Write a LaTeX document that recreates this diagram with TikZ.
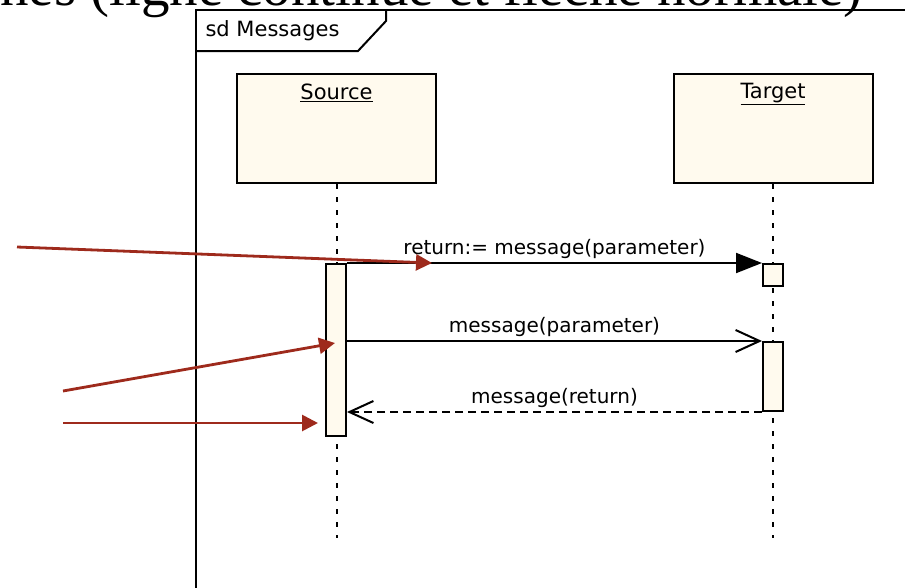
\documentclass[tikz,border=0pt]{standalone}
\usepackage{fontspec}
\setmainfont{Liberation Serif}
\newfontfamily\umlfont{DejaVu Sans}
\usetikzlibrary{arrows.meta,positioning}

\definecolor{objfill}{RGB}{255,250,238}
\definecolor{notered}{RGB}{158,42,28}

\tikzstyle{every node}=[font=\umlfont\fontsize{20}{24}\selectfont]
\tikzstyle{obj}=[draw, fill=objfill, line width=2pt, minimum width=199pt, minimum height=109pt, inner sep=0pt]
\tikzstyle{objname}=[font=\umlfont\fontsize{21}{25}\selectfont, anchor=north]
\tikzstyle{actbar}=[draw, fill=objfill, line width=2pt, minimum width=20pt, inner sep=0pt]
\tikzstyle{lifeline}=[line width=2pt, dash pattern=on 5pt off 8pt]
\tikzstyle{syncmsg}=[line width=2pt, -{Triangle[length=26pt,width=20pt]}]
\tikzstyle{asyncmsg}=[line width=2pt, -{Straight Barb[length=24pt,width=22pt]}]
\tikzstyle{replymsg}=[asyncmsg, dash pattern=on 8pt off 5pt]
\tikzstyle{redarrow}=[notered, line width=2.8pt, -{Triangle[length=16pt,width=16pt]}]

\begin{document}
\begin{tikzpicture}[x=1pt,y=-1pt]
            \useasboundingbox (0,0) rectangle (905,587);
            \clip (0,0) rectangle (905,587);

            % 标题（被截断）
            \node[font=\rmfamily\fontsize{57}{60}\selectfont, anchor=base west, inner sep=0pt] (titre) at (0,5) {nes (ligne continue et flèche normale)};

            % 绘制框架
            \draw[line width=2pt] (196,600) -- (196,10) -- (920,10);
            \draw[line width=2pt] (196,51) -- (358,51) -- (386,21) -- (386,10);
            \node[anchor=west, font=\umlfont\fontsize{21}{25}\selectfont] (sd) at (202,31) {sd Messages};

            % 对象
            \node[obj] (src) at (336.5,128.5) {};
            \node[obj] (tgt) at (773,128.5) {};
            \node[objname, below=7pt of src.north] (srcName) {\underline{Source}};
            \node[objname, below=7pt of tgt.north] (tgtName) {\underline{Target}};

            % 生命线
            \coordinate (srcEnd) at (src.south |- 0,538);
            \coordinate (tgtEnd) at (tgt.south |- 0,538);
            \draw[lifeline] (src.south) -- (srcEnd);
            \draw[lifeline] (tgt.south) -- (tgtEnd);

            % 激活条
            \node[actbar, minimum height=172pt] (srcAct) at (336,350) {};
            \node[actbar, minimum height=22pt] (tgtAct1) at (773,275) {};
            \node[actbar, minimum height=69pt] (tgtAct2) at (773,376.5) {};

            % 消息
            \draw[syncmsg] (srcAct.north east) -- (tgtAct1.north west) node[midway, above] (m1) {return:= message(parameter)};
            \draw[asyncmsg] (srcAct.east |- tgtAct2.north) -- (tgtAct2.north west) node[midway, above] (m2) {message(parameter)};
            \draw[replymsg] (tgtAct2.south west) -- (srcAct.east |- tgtAct2.south) node[midway, above] (m3) {message(return)};

            % 红色箭头
            \coordinate (a1) at (17,247);
            \coordinate (b1) at (432,263);
            \coordinate (a2) at (63,391);
            \coordinate (b2) at (335,343);
            \coordinate (a3) at (63,423);
            \coordinate (b3) at (318,423);
            \draw[redarrow] (a1) -- (b1);
            \draw[redarrow] (a2) -- (b2);
            \draw[redarrow] (a3) -- (b3);
        \end{tikzpicture}
\end{document}
